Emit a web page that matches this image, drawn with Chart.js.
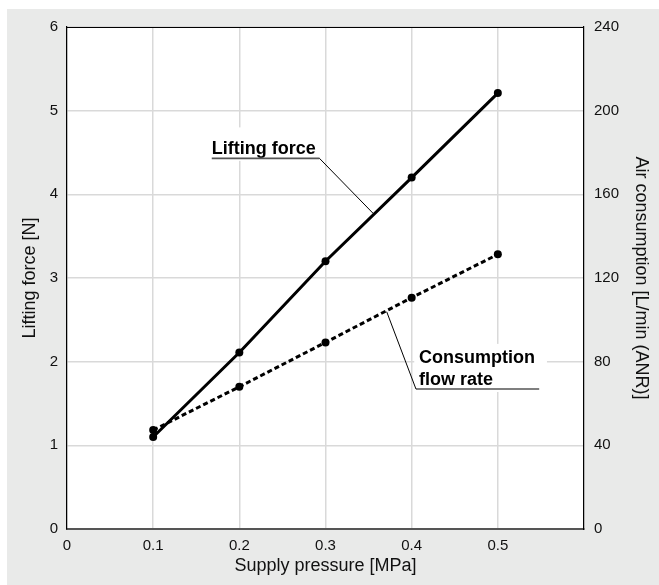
<!DOCTYPE html>
<html>
<head>
<meta charset="utf-8">
<script src="https://cdn.jsdelivr.net/npm/chart.js@4"></script>
<style>
  html, body { margin: 0; padding: 0; background: #ffffff; }
  #wrap { width: 659px; height: 585px; position: relative; }
</style>
</head>
<body>
<div id="wrap"><canvas id="chart" width="659" height="585"></canvas></div>
<script>
// Supply pressure [MPa]
const pressure = [0.1, 0.2, 0.3, 0.4, 0.5];
// Lifting force [N] (left axis)
const liftingForce = [1.10, 2.11, 3.20, 4.20, 5.21];
// Air consumption [L/min (ANR)] (right axis)
const airConsumption = [47.3, 68.0, 89.2, 110.6, 131.3];

const xTicks = [0, 0.1, 0.2, 0.3, 0.4, 0.5];

const FONT = "'Liberation Sans', Arial, Helvetica, sans-serif";

// callout labels, anchored in data coordinates
const callouts = [
    {
        lines: ['Lifting force'], axis: 'y',
        x: 0.168, y: 4.48, lineGap: 22,
        underline: { x0: 0.168, x1: 0.293, y: 4.43 },
        leaderTo: { x: 0.3555, y: 3.77 },
        leaderFrom: 'right',
        box: { x0: 0.16, x1: 0.298, y0: 4.8, y1: 4.4 }
    },
    {
        lines: ['Consumption', 'flow rate'], axis: 'y1',
        x: 0.4085, y: 79.3, lineGap: 22,
        underline: { x0: 0.405, x1: 0.548, y: 66.9 },
        leaderTo: { x: 0.371, y: 103.9 },
        leaderFrom: 'left',
        box: { x0: 0.403, x1: 0.557, y0: 88.5, y1: 65.5 }
    }
];

const backdrop = {
    id: 'backdrop',
    beforeDraw(chart) {
        const { ctx, chartArea: a } = chart;
        ctx.save();
        ctx.fillStyle = '#e9eae9';
        ctx.fillRect(7, 9, chart.width - 7, chart.height - 9);
        ctx.fillStyle = '#ffffff';
        ctx.fillRect(a.left, a.top, a.right - a.left, a.bottom - a.top);
        ctx.restore();
    },
    afterDraw(chart) {
        const { ctx, chartArea: a } = chart;
        ctx.save();
        ctx.strokeStyle = '#000000';
        ctx.lineWidth = 1.2;
        ctx.beginPath();
        ctx.moveTo(a.left, a.top + 0.5);
        ctx.lineTo(a.right, a.top + 0.5);
        ctx.stroke();
        ctx.restore();
    }
};

const calloutPlugin = {
    id: 'callouts',
    beforeDatasetsDraw(chart) {
        const { ctx } = chart;
        const xs = chart.scales.x;
        ctx.save();
        callouts.forEach(c => {
            const ys = chart.scales[c.axis];
            const bx0 = xs.getPixelForValue(c.box.x0), bx1 = xs.getPixelForValue(c.box.x1);
            const by0 = ys.getPixelForValue(c.box.y0), by1 = ys.getPixelForValue(c.box.y1);
            ctx.fillStyle = '#ffffff';
            ctx.fillRect(bx0, by0, bx1 - bx0, by1 - by0);
        });
        ctx.restore();
    },
    afterDatasetsDraw(chart) {
        const { ctx } = chart;
        const xs = chart.scales.x;
        ctx.save();
        callouts.forEach(c => {
            const ys = chart.scales[c.axis];
            const tx = xs.getPixelForValue(c.x), ty = ys.getPixelForValue(c.y);
            ctx.fillStyle = '#000000';
            ctx.font = 'bold 18px ' + FONT;
            ctx.textBaseline = 'alphabetic';
            ctx.textAlign = 'left';
            c.lines.forEach((t, i) => ctx.fillText(t, tx, ty + i * c.lineGap));

            const ux0 = xs.getPixelForValue(c.underline.x0);
            const ux1 = xs.getPixelForValue(c.underline.x1);
            const uy = ys.getPixelForValue(c.underline.y);
            ctx.strokeStyle = '#555555';
            ctx.lineWidth = 1.6;
            ctx.beginPath();
            ctx.moveTo(ux0, uy);
            ctx.lineTo(ux1, uy);
            ctx.stroke();

            const lx = c.leaderFrom === 'right' ? ux1 : ux0;
            ctx.strokeStyle = '#000000';
            ctx.lineWidth = 1;
            ctx.beginPath();
            ctx.moveTo(lx, uy);
            ctx.lineTo(xs.getPixelForValue(c.leaderTo.x), ys.getPixelForValue(c.leaderTo.y));
            ctx.stroke();
        });
        ctx.restore();
    }
};

const ctx = document.getElementById('chart').getContext('2d');
new Chart(ctx, {
    type: 'line',
    data: {
        datasets: [
            {
                label: 'Lifting force',
                data: pressure.map((p, i) => ({ x: p, y: liftingForce[i] })),
                yAxisID: 'y',
                borderColor: '#000000',
                backgroundColor: '#000000',
                borderWidth: 3,
                pointRadius: 4,
                pointBorderWidth: 0,
                tension: 0
            },
            {
                label: 'Consumption flow rate',
                data: pressure.map((p, i) => ({ x: p, y: airConsumption[i] })),
                yAxisID: 'y1',
                borderColor: '#000000',
                backgroundColor: '#000000',
                borderWidth: 3,
                borderDash: [5, 3],
                pointRadius: 4,
                pointBorderWidth: 0,
                tension: 0
            }
        ]
    },
    options: {
        responsive: false,
        animation: false,
        layout: { padding: { top: 27, left: 0, right: 0, bottom: 0 } },
        plugins: {
            legend: { display: false },
            tooltip: { enabled: false }
        },
        scales: {
            x: {
                type: 'linear',
                min: 0,
                max: 0.6,
                afterFit: s => { s.height = 56; },
                afterBuildTicks: s => { s.ticks = xTicks.concat([0.6]).map(v => ({ value: v })); },
                ticks: {
                    padding: 8,
                    color: '#111111',
                    font: { family: FONT, size: 15 },
                    callback: v => (xTicks.some(t => Math.abs(t - v) < 1e-9) ? String(+v.toFixed(1)) : '')
                },
                grid: { color: '#d9d9d9', lineWidth: 1.5, drawTicks: false },
                border: { color: '#555555', width: 2 },
                title: {
                    display: true,
                    text: 'Supply pressure [MPa]',
                    color: '#111111',
                    font: { family: FONT, size: 18 },
                    padding: { top: 0, bottom: 8 }
                }
            },
            y: {
                position: 'left',
                min: 0,
                max: 6,
                afterFit: s => { s.width = 67; },
                ticks: {
                    stepSize: 1,
                    padding: 9,
                    color: '#111111',
                    font: { family: FONT, size: 15 }
                },
                grid: { color: '#d9d9d9', lineWidth: 1.5, drawTicks: false },
                border: { color: '#000000', width: 1.2 },
                title: {
                    display: true,
                    text: 'Lifting force [N]',
                    color: '#111111',
                    font: { family: FONT, size: 18 },
                    padding: { top: 19, bottom: 0 }
                }
            },
            y1: {
                position: 'right',
                min: 0,
                max: 240,
                afterFit: s => { s.width = 75; },
                ticks: {
                    stepSize: 40,
                    padding: 10,
                    color: '#111111',
                    font: { family: FONT, size: 15 }
                },
                grid: { drawOnChartArea: false, drawTicks: false },
                border: { color: '#000000', width: 1.2 },
                title: {
                    display: true,
                    text: 'Air consumption [L/min (ANR)]',
                    color: '#111111',
                    font: { family: FONT, size: 18 },
                    padding: { top: 7, bottom: 0 }
                }
            }
        }
    },
    plugins: [backdrop, calloutPlugin]
});
</script>
</body>
</html>
